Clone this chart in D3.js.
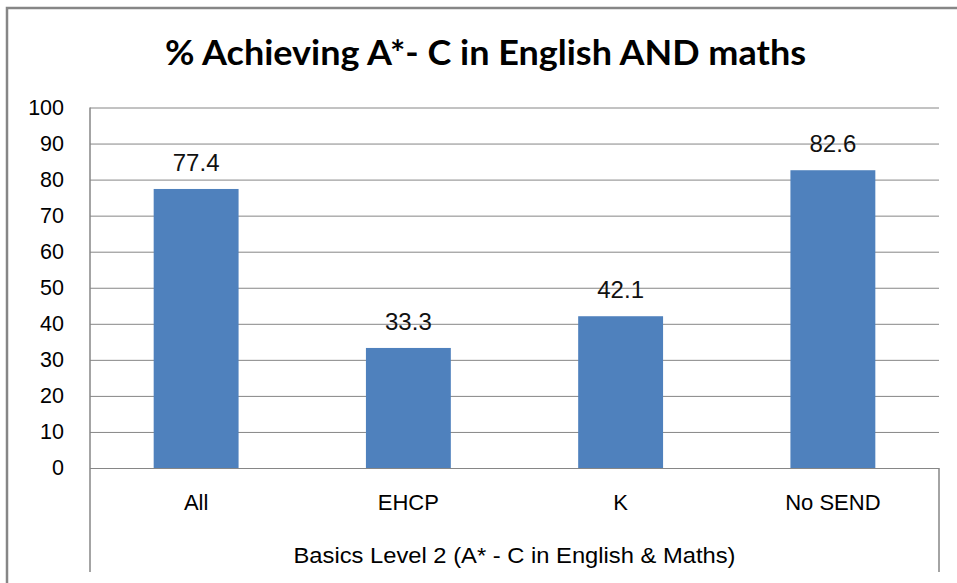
<!DOCTYPE html>
<html>
<head>
<meta charset="utf-8">
<script src="https://cdn.jsdelivr.net/npm/d3@7"></script>
<style>
  body { margin: 0; background: #fff; }
  svg { display: block; }
</style>
</head>
<body>
<div id="chart"></div>
<script>
// chart data
var categories = ["All", "EHCP", "K", "No SEND"];
var values = [77.4, 33.3, 42.1, 82.6];
var yTicks = [0, 10, 20, 30, 40, 50, 60, 70, 80, 90, 100];
var groupLabel = "Basics Level 2 (A* - C in English & Maths)";
var title = "% Achieving A*- C in English AND maths";

var plotVariables = ({
    width: 957,
    height: 583,
    plotLeft: 90,
    plotRight: 939,
    plotTop: 107.5,
    plotBottom: 468,
    axisBottom: 572,
    barColor: "#4F81BD",
    lineColor: "#868686",
    font: "'Liberation Sans', Arial, sans-serif"
});

var svg = d3.select("#chart").append("svg")
    .attr("width", plotVariables.width)
    .attr("height", plotVariables.height);

// outer chart border (runs off the right and bottom edges)
svg.append("rect")
    .attr("x", 7)
    .attr("y", 8)
    .attr("width", 1000)
    .attr("height", 700)
    .attr("fill", "#fff")
    .attr("stroke", plotVariables.lineColor)
    .attr("stroke-width", 2.5);

// title
svg.append("text")
    .attr("x", 485.5)
    .attr("y", 65)
    .attr("text-anchor", "middle")
    .attr("font-family", "Lato, 'Open Sans', sans-serif")
    .attr("font-weight", "bold")
    .attr("font-size", "34px")
    .attr("textLength", 641)
    .attr("lengthAdjust", "spacingAndGlyphs")
    .attr("fill", "#000")
    .text(title);

// scales
var x = d3.scaleBand()
    .domain(categories)
    .range([plotVariables.plotLeft, plotVariables.plotRight])
    .paddingInner(0.6)
    .paddingOuter(0.3);

var y = d3.scaleLinear()
    .domain([0, 100])
    .range([plotVariables.plotBottom, plotVariables.plotTop]);

// gridlines + y labels via the axis
var yAxis = svg.append("g")
    .attr("transform", `translate(${plotVariables.plotLeft},0)`)
    .call(d3.axisLeft(y)
        .tickValues(yTicks)
        .tickSize(-(plotVariables.plotRight - plotVariables.plotLeft))
        .tickPadding(26)
        .tickFormat(d3.format("d")));

yAxis.select(".domain").remove();
yAxis.selectAll(".tick line")
    .attr("stroke", plotVariables.lineColor)
    .attr("stroke-width", 1);
yAxis.selectAll(".tick text")
    .attr("font-family", plotVariables.font)
    .attr("font-size", "21.5px")
    .attr("fill", "#000");

// vertical axis line and category box edges
svg.append("line")
    .attr("x1", plotVariables.plotLeft).attr("x2", plotVariables.plotLeft)
    .attr("y1", plotVariables.plotTop).attr("y2", plotVariables.axisBottom)
    .attr("stroke", plotVariables.lineColor)
    .attr("stroke-width", 1.5);

svg.append("line")
    .attr("x1", plotVariables.plotRight).attr("x2", plotVariables.plotRight)
    .attr("y1", plotVariables.plotBottom).attr("y2", plotVariables.axisBottom)
    .attr("stroke", plotVariables.lineColor)
    .attr("stroke-width", 1.5);

// bars
svg.append("g")
    .selectAll("rect")
    .data(values)
    .join("rect")
    .attr("x", (d, i) => x(categories[i]))
    .attr("y", d => y(d))
    .attr("width", x.bandwidth())
    .attr("height", d => y(0) - y(d))
    .attr("fill", plotVariables.barColor);

// value labels
svg.append("g")
    .selectAll("text")
    .data(values)
    .join("text")
    .attr("x", (d, i) => x(categories[i]) + x.bandwidth() / 2)
    .attr("y", d => y(d) - 18)
    .attr("text-anchor", "middle")
    .attr("font-family", plotVariables.font)
    .attr("font-size", "24px")
    .attr("fill", "#111")
    .text(d => d3.format(".1f")(d));

// category labels
svg.append("g")
    .selectAll("text")
    .data(categories)
    .join("text")
    .attr("x", d => x(d) + x.bandwidth() / 2)
    .attr("y", 510)
    .attr("text-anchor", "middle")
    .attr("font-family", plotVariables.font)
    .attr("font-size", "22px")
    .attr("fill", "#000")
    .text(d => d);

// group label under the categories
svg.append("text")
    .attr("x", (plotVariables.plotLeft + plotVariables.plotRight) / 2)
    .attr("y", 563)
    .attr("text-anchor", "middle")
    .attr("font-family", plotVariables.font)
    .attr("font-size", "22.5px")
    .attr("textLength", 442)
    .attr("lengthAdjust", "spacingAndGlyphs")
    .attr("fill", "#000")
    .text(groupLabel);
</script>
</body>
</html>
